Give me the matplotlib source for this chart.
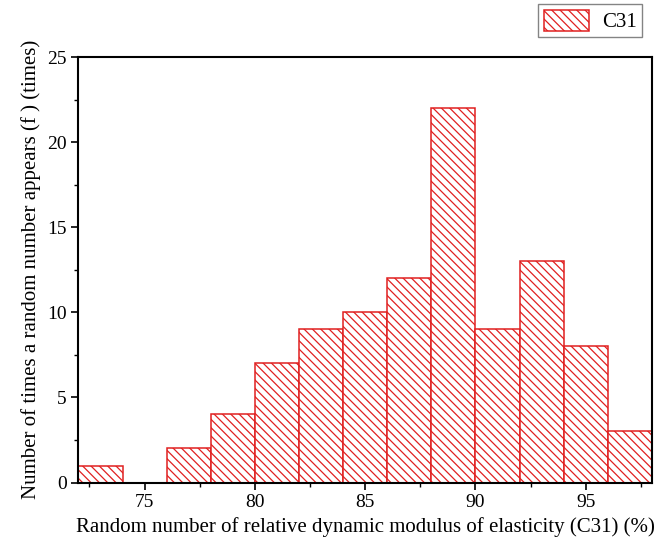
import matplotlib
matplotlib.use('Agg')
import matplotlib.pyplot as plt
import numpy as np

plt.rcParams['font.family'] = ['Liberation Serif', 'DejaVu Serif']
plt.rcParams['hatch.linewidth'] = 0.9
plt.rcParams['hatch.color'] = '#e77070'

# bin edges and counts
bin_edges = [72, 74, 76, 78, 80, 82, 84, 86, 88, 90, 92, 94, 96, 98]
counts = [1, 0, 2, 4, 7, 9, 10, 12, 22, 9, 13, 8, 3]

fig = plt.figure(figsize=(6.7, 5.44), dpi=100)
ax = fig.add_axes([0.117, 0.113, 0.856, 0.782])

lefts = np.array(bin_edges[:-1])
widths = np.diff(bin_edges)
ax.bar(lefts, counts, width=widths, align='edge', facecolor='white',
       edgecolor='#e02020', linewidth=1.1, hatch='\\\\\\\\', label='C31')

ax.set_xlim(72, 98)
ax.set_ylim(0, 25)
ax.set_xticks([75, 80, 85, 90, 95])
ax.set_xticks(np.arange(72.5, 98, 2.5), minor=True)
ax.set_yticks([0, 5, 10, 15, 20, 25])
ax.set_yticks(np.arange(2.5, 25, 5), minor=True)
ax.tick_params(axis='both', which='major', direction='out', length=5, width=1.2,
               labelsize=14)
ax.tick_params(axis='both', which='minor', direction='out', length=3, width=1.0)
for s in ax.spines.values():
    s.set_linewidth(1.5)

ax.set_xlabel('Random number of relative dynamic modulus of elasticity (C31) (%)',
              fontsize=15)
ax.set_ylabel('Number of times a random number appears (f ) (times)', fontsize=15)

fig.legend(loc='upper right', bbox_to_anchor=(0.958, 0.992), fontsize=15,
           frameon=True, fancybox=False, edgecolor='#666666',
           handlelength=2.2, handleheight=1.2, borderpad=0.25,
           borderaxespad=0, handletextpad=0.6)

fig.savefig('out.png', dpi=100)
